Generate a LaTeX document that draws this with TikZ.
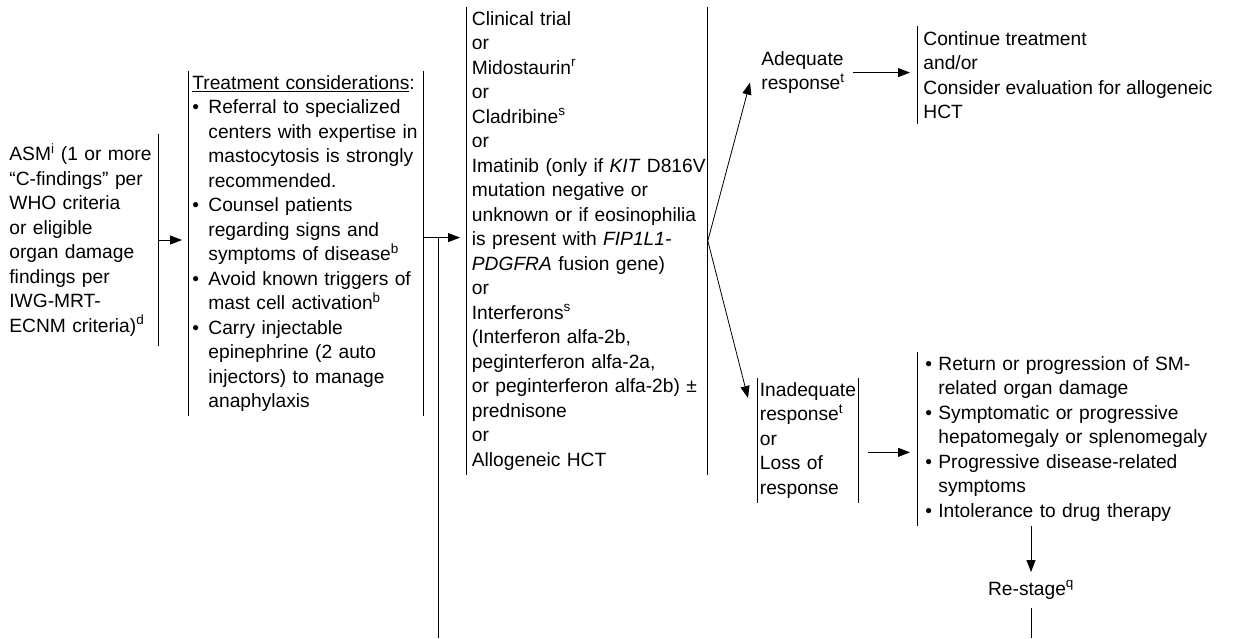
\documentclass[tikz,border=0pt]{standalone}
\usepackage{fontspec}
\setmainfont{Liberation Sans}
\usetikzlibrary{positioning, arrows.meta}

\newcommand{\itm}[1][16pt]{\makebox[#1][l]{\textbullet}}
\newcommand{\hng}[1][16pt]{\hspace*{#1}}
\hyphenpenalty=10000
\exhyphenpenalty=10000

\tikzset{
  txt/.style={align=left, inner ysep=4pt, anchor=north west, font=\fontsize{19.2}{24.5}\selectfont},
  bars/.style={append after command={(\tikzlastnode.north west) edge (\tikzlastnode.south west)
                                     (\tikzlastnode.north east) edge (\tikzlastnode.south east)}},
  lbar/.style={append after command={(\tikzlastnode.north west) edge (\tikzlastnode.south west)}},
  rbar/.style={append after command={(\tikzlastnode.north east) edge (\tikzlastnode.south east)}}
}

\begin{document}
\begin{tikzpicture}[x=1pt, y=-1pt, line width=0.8pt, >={Triangle[length=12pt,width=9pt]}]
  \useasboundingbox (0,0) rectangle (1241,638);

  \node[txt, rbar, anchor=west, inner xsep=6pt, inner ysep=9pt, text width=143pt] (asm) at (3,240)
    {ASM\textsuperscript{i} (1 or more\\ “C-findings” per\\ WHO criteria\\ or eligible\\ organ damage\\
     findings per\\ IWG-MRT-\\ ECNM criteria)\textsuperscript{d}};
  \node[txt, bars, inner xsep=4pt, text width=227pt] (treat) at (188,71)
    {\underline{Treatment considerations}:\\
     \itm Referral to specialized\\ \hng centers with expertise in\\ \hng mastocytosis is strongly\\ \hng recommended.\\
     \itm Counsel patients\\ \hng regarding signs and\\ \hng symptoms of disease\textsuperscript{b}\\
     \itm Avoid known triggers of\\ \hng mast cell activation\textsuperscript{b}\\
     \itm Carry injectable\\ \hng epinephrine (2 auto\\ \hng injectors) to manage\\ \hng anaphylaxis};
  \node[txt, bars, inner xsep=5.5pt, text width=230pt] (mid) at (466,7)
    {Clinical trial\\ or\\ Midostaurin\textsuperscript{r}\\ or\\ Cladribine\textsuperscript{s}\\ or\\
     \mbox{Imatinib (only if \textit{KIT} D816V}\\ mutation negative or\\ unknown or if eosinophilia\\
     is present with \textit{FIP1L1-}\\ \textit{PDGFRA} fusion gene)\\ or\\ Interferons\textsuperscript{s}\\
     (Interferon alfa-2b,\\ peginterferon alfa-2a,\\ or peginterferon alfa-2b) ±\\ prednisone\\ or\\
     Allogeneic HCT};

  \node[txt, inner sep=0pt] (ade) at (761,51) {Adequate\\ response\textsuperscript{t}};
  \node[txt, lbar, inner xsep=6pt, inner ysep=5pt] (cont) at (917,26)
    {Continue treatment\\ and/or\\ Consider evaluation for allogeneic\\ HCT};

  \node[txt, bars, inner xsep=2.5pt, text width=96pt] (inad) at (757,378)
    {Inadequate\\ response\textsuperscript{t}\\ or\\ Loss of\\ response};
  \node[txt, lbar, inner xsep=8pt, text width=290pt] (resp) at (917,352)
    {\itm[13pt]Return or progression of SM-\\ \hng[13pt]related organ damage\\
     \itm[13pt]Symptomatic or progressive\\ \hng[13pt]hepatomegaly or splenomegaly\\
     \itm[13pt]Progressive disease-related\\ \hng[13pt]symptoms\\
     \itm[13pt]Intolerance to drug therapy};
  \node[txt, anchor=north, inner xsep=0pt, inner ysep=8pt] (restage) at (1031,572) {Re-stage\textsuperscript{q}};

  % loose ends at the bottom edge
  \coordinate (jn) at ([xshift=15pt, yshift=6pt]treat.east);
  \coordinate (loopend) at (jn |- 0,638);
  \coordinate (outb) at (restage.south |- 0,638);

  \draw[->, shorten >=6pt] (asm.east) -- (asm.east -| treat.west);
  \draw[->, shorten >=6pt] ([yshift=6pt]treat.east) -- ([yshift=6pt]treat.east -| mid.west);
  \draw (loopend) -- (jn);
  \draw[->] (mid.east) -- ([xshift=-11pt, yshift=-10pt]ade.west);
  \draw[->] (mid.east) -- ([xshift=-9pt, yshift=-20pt]inad.north west);
  \draw[->, shorten <=8pt, shorten >=7pt] (ade.east) -- (ade.east -| cont.west);
  \draw[->, shorten <=9pt, shorten >=7pt] ([yshift=-12pt]inad.east) -- ([yshift=-12pt]inad.east -| resp.west);
  \draw[->] (restage.north |- resp.south) -- (restage.north);
  \draw (restage.south) -- (outb);
\end{tikzpicture}
\end{document}
